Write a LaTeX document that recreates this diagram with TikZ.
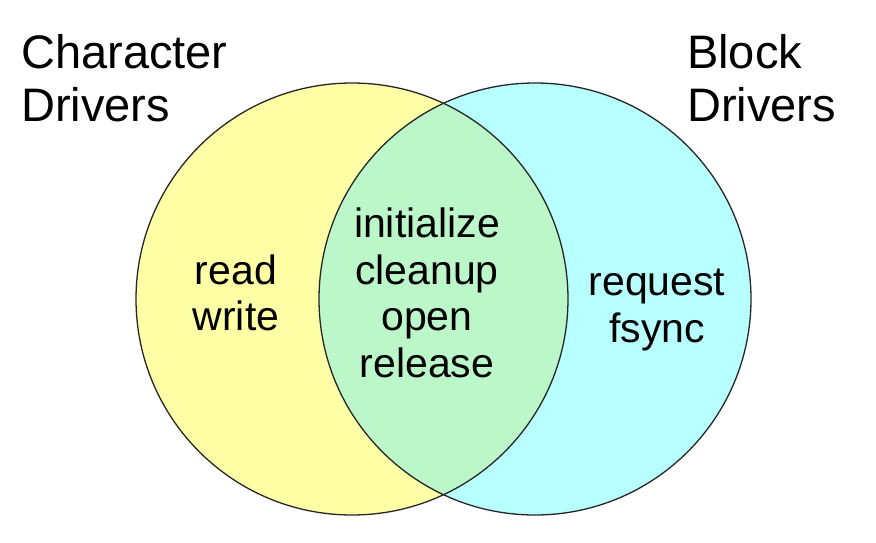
\documentclass[tikz,border=0pt]{standalone}
\usepackage{fontspec}
\setmainfont{Liberation Sans}
\usetikzlibrary{positioning}
\definecolor{charyellow}{HTML}{FFFFA6}
\definecolor{blockcyan}{HTML}{B8FFFF}
\definecolor{commongreen}{HTML}{BBF7C9}

\begin{document}
\begin{tikzpicture}[x=1pt,y=-1pt,
  setlabel/.style={inner sep=0pt,align=left,font=\fontsize{47}{53}\selectfont},
  oplabel/.style={inner sep=0pt,align=center,font=\fontsize{41}{46.5}\selectfont}]
\useasboundingbox (0,0) rectangle (876,542);
% the two sets
\coordinate (C) at (352,299); \coordinate (B) at (535,299);
\fill[charyellow] (C) circle[radius=216pt];
\fill[blockcyan] (B) circle[radius=216pt];
\begin{scope}\clip (C) circle[radius=216pt];\fill[commongreen] (B) circle[radius=216pt];\end{scope}
\draw[line width=1.3pt,black!85] (C) circle[radius=216pt] (B) circle[radius=216pt];
% labels
\node[setlabel,anchor=west] (chartitle) at (21,78) {Character\\Drivers};
\node[setlabel,anchor=west] (blocktitle) at (687,78) {Block\\Drivers};
\node[oplabel] (charops) at (236,293) {read\\write};
\node[oplabel] (commonops) at (427,293) {initialize\\cleanup\\open\\release};
\node[oplabel] (blockops) at (657,310) {request\\fsync};
\end{tikzpicture}
\end{document}
